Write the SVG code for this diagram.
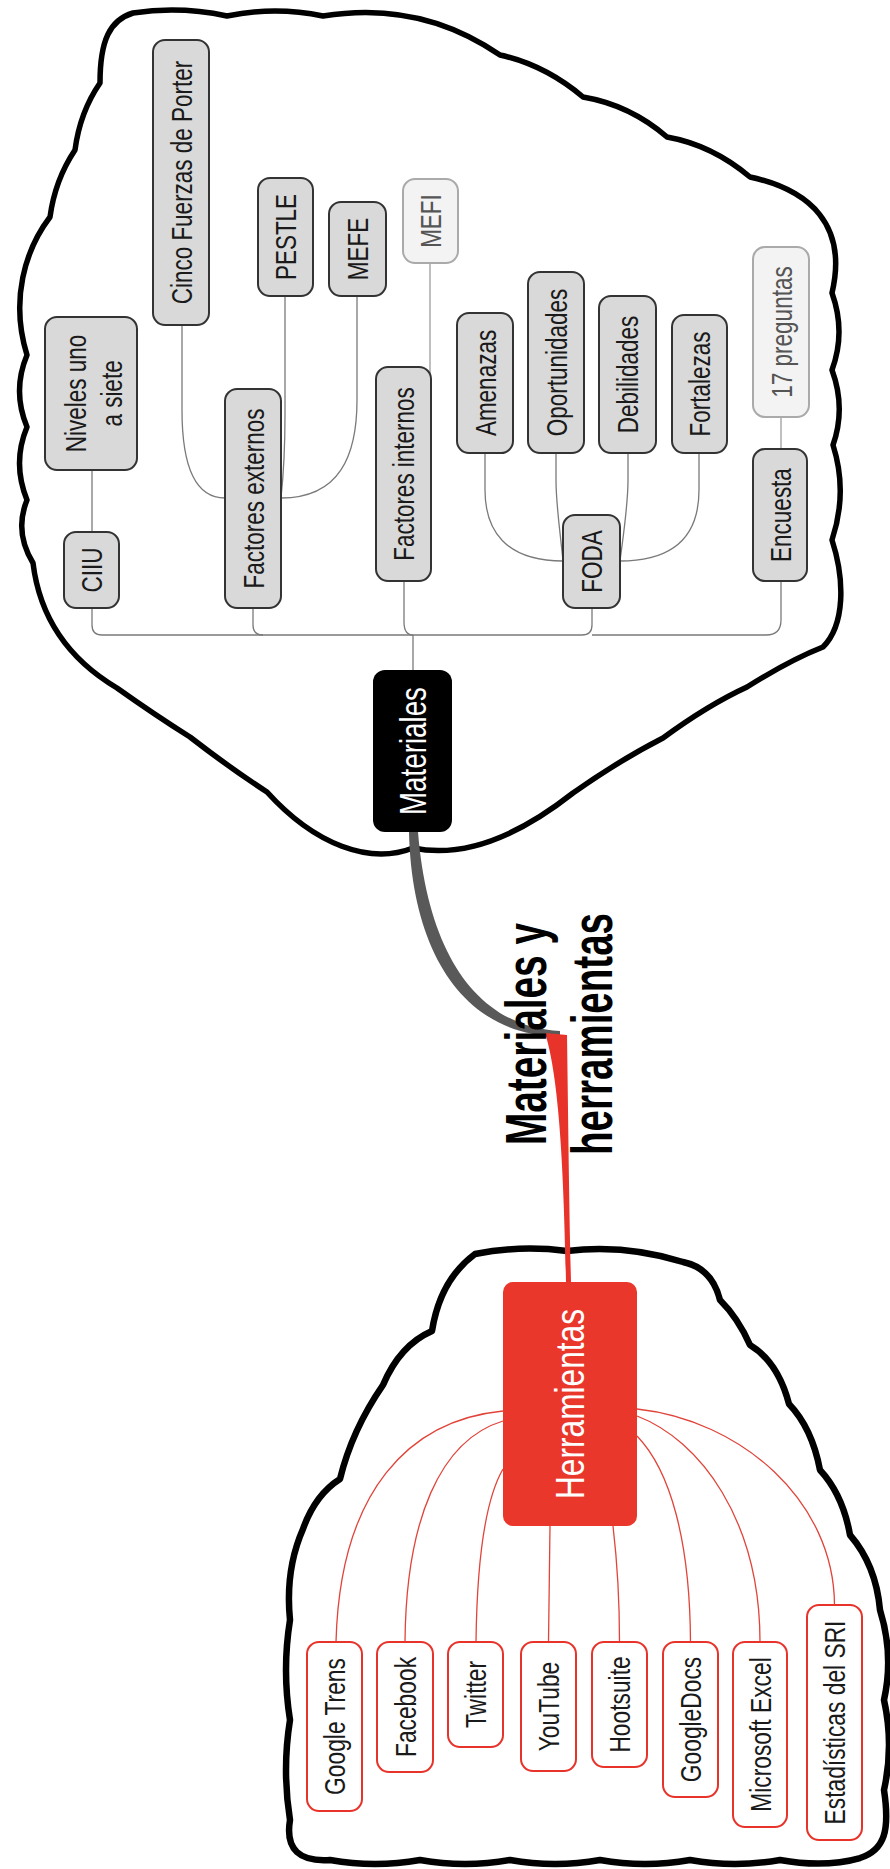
<svg xmlns="http://www.w3.org/2000/svg" width="890" height="1869" viewBox="0 0 890 1869">
<style>
.cloud{fill:#fff;stroke:#000;stroke-width:5.5;stroke-linejoin:round}
.cloud2{fill:#fff;stroke:#000;stroke-width:6.5;stroke-linejoin:round}
.g{fill:#d9d9d9;stroke:#333;stroke-width:2}
.l{fill:#f3f3f3;stroke:#aaa;stroke-width:2}
.t{fill:#fff;stroke:#e8332a;stroke-width:2}
.tx{font-family:"Liberation Sans",Arial,sans-serif;font-size:30px;fill:#1a1a1a;text-anchor:middle}
.lt{fill:#555}
.wh{fill:#fff}
.c{fill:none;stroke:#7a7a7a;stroke-width:1.3}
.cl{fill:none;stroke:#aaa;stroke-width:1.5}
.cr{fill:none;stroke:#e0443a;stroke-width:1.3}
</style>
<rect width="890" height="1869" fill="#fff"/>
<g id="cloud-materiales">
<path class="cloud" d="M133,13 Q180,6 227,16 Q275,6 323,16 Q420,0 500,55 Q545,65 583,97 Q630,105 667,137 Q712,145 750,177 C810,190 848,225 832,293 Q846,332 832,370 Q846,408 833,445 Q848,492 832,540 C845,580 845,625 823,647 Q790,660 747,687 Q708,705 663,738 Q620,760 573,793 C545,815 480,862 413,848 C370,865 315,845 267,792 Q230,768 190,737 Q155,715 117,688 C70,660 40,620 33,563 Q14,532 27,500 Q12,463 27,427 Q12,391 27,355 C10,300 25,250 50,217 Q55,180 75,150 Q80,112 100,83 C100,40 110,20 133,13 Z"/>
</g>
<g id="cloud-herramientas">
<path class="cloud2" d="M567,1251 Q625,1244 683,1262 Q712,1268 720,1300 Q738,1318 750,1345 Q778,1362 789,1404 Q812,1428 820,1470 Q843,1495 850,1535 Q876,1565 880,1610 Q894,1655 884,1700 Q894,1745 884,1790 C890,1830 885,1850 860,1858 Q825,1868 780,1860 Q735,1868 690,1860 Q645,1868 600,1860 Q555,1868 510,1860 Q465,1868 420,1860 Q375,1868 330,1860 C300,1862 285,1850 290,1820 Q282,1770 290,1720 Q282,1670 290,1620 Q285,1570 303,1529 Q315,1495 340,1479 Q352,1430 383,1385 Q400,1345 432,1331 Q440,1280 475,1254 Q520,1245 567,1251 Z"/>
</g>
<g id="connectors">
<path class="c" d="M413,670 L413,635"/>
<path class="c" d="M413,635 L102,635 Q92,635 92,625 L92,608"/>
<path class="c" d="M263,635 Q253,635 253,625 L253,608"/>
<path class="c" d="M413,635 Q404,635 404,622 L404,581"/>
<path class="c" d="M413,635 L582,635 Q592,635 592,625 L592,608"/>
<path class="c" d="M592,635 L766,635 Q781,635 781,620 L781,581"/>
<path class="c" d="M92,532 L92,470"/>
<path class="c" d="M225,498 C192,498 182,460 182,410 L182,325"/>
<path class="c" d="M281,498 C284,470 285,445 285,415 L285,296"/>
<path class="c" d="M281,498 C340,498 357,455 357,400 L357,296"/>
<path class="cl" d="M430,474 L430,263"/>
<path class="c" d="M563,561 C505,561 485,530 485,490 L485,453"/>
<path class="c" d="M563,561 C560,530 556,505 556,480 L556,453"/>
<path class="c" d="M620,561 C624,530 628,505 628,480 L628,453"/>
<path class="c" d="M620,561 C680,561 699,530 699,490 L699,453"/>
<path class="cl" d="M781,449 L781,417"/>
<path fill="#595959" d="M409,832 C412,960 470,1037 560,1036 L560,1031 C478,1027 428,955 418,832 Z"/>
<path fill="#e8332a" d="M545,1033 L567,1035 C568,1100 569,1200 571,1282 L566,1282 C564,1180 560,1080 545,1033 Z"/>
<path class="cr" d="M503,1411 C410,1420 340,1490 336,1642"/>
<path class="cr" d="M503,1421 C440,1440 406,1520 405,1642"/>
<path class="cr" d="M503,1469 C485,1500 477,1560 476,1642"/>
<path class="cr" d="M550,1526 L548.5,1642"/>
<path class="cr" d="M613,1526 C617,1560 619.5,1600 619.5,1642"/>
<path class="cr" d="M637,1436 C670,1470 690,1540 690.5,1642"/>
<path class="cr" d="M637,1416 C700,1440 760,1520 760,1642"/>
<path class="cr" d="M637,1409 C740,1420 834,1500 834.5,1605"/>
</g>
<g id="n-niveles"><rect class="g" x="45" y="317" width="92" height="153" rx="12"/>
<text class="tx" transform="translate(86,393.5) rotate(-90) scale(0.75,1)">Niveles uno</text>
<text class="tx" transform="translate(122,393.5) rotate(-90) scale(0.75,1)">a siete</text></g>
<g id="n-ciiu"><rect class="g" x="64" y="532" width="55" height="76" rx="12"/>
<text class="tx" transform="translate(102.2,570) rotate(-90) scale(0.75,1)">CIIU</text></g>
<g id="n-cinco"><rect class="g" x="153" y="40" width="56" height="285" rx="12"/>
<text class="tx" transform="translate(191.7,182.5) rotate(-90) scale(0.75,1)">Cinco Fuerzas de Porter</text></g>
<g id="n-fext"><rect class="g" x="225" y="389" width="56" height="219" rx="12"/>
<text class="tx" transform="translate(263.7,498.5) rotate(-90) scale(0.75,1)">Factores externos</text></g>
<g id="n-pestle"><rect class="g" x="258" y="178" width="55" height="118" rx="12"/>
<text class="tx" transform="translate(296.2,237) rotate(-90) scale(0.75,1)">PESTLE</text></g>
<g id="n-mefe"><rect class="g" x="329" y="202" width="57" height="94" rx="12"/>
<text class="tx" transform="translate(368.2,249) rotate(-90) scale(0.75,1)">MEFE</text></g>
<g id="n-mefi"><rect class="l" x="403" y="179" width="55" height="84" rx="12"/>
<text class="tx lt" transform="translate(441.2,221) rotate(-90) scale(0.75,1)">MEFI</text></g>
<g id="n-fint"><rect class="g" x="376" y="367" width="55" height="214" rx="12"/>
<text class="tx" transform="translate(414.2,474) rotate(-90) scale(0.75,1)">Factores internos</text></g>
<g id="n-amenazas"><rect class="g" x="457" y="313" width="56" height="140" rx="12"/>
<text class="tx" transform="translate(495.7,383) rotate(-90) scale(0.75,1)">Amenazas</text></g>
<g id="n-oport"><rect class="g" x="528" y="272" width="56" height="181" rx="12"/>
<text class="tx" transform="translate(566.7,362.5) rotate(-90) scale(0.75,1)">Oportunidades</text></g>
<g id="n-debil"><rect class="g" x="599" y="296" width="57" height="157" rx="12"/>
<text class="tx" transform="translate(638.2,374.5) rotate(-90) scale(0.75,1)">Debilidades</text></g>
<g id="n-fort"><rect class="g" x="672" y="315" width="55" height="138" rx="12"/>
<text class="tx" transform="translate(710.2,384) rotate(-90) scale(0.75,1)">Fortalezas</text></g>
<g id="n-foda"><rect class="g" x="563" y="515" width="57" height="93" rx="12"/>
<text class="tx" transform="translate(602.2,561.5) rotate(-90) scale(0.75,1)">FODA</text></g>
<g id="n-17"><rect class="l" x="753" y="247" width="56" height="170" rx="12"/>
<text class="tx lt" transform="translate(791.7,332) rotate(-90) scale(0.75,1)">17 preguntas</text></g>
<g id="n-encuesta"><rect class="g" x="753" y="449" width="54" height="132" rx="12"/>
<text class="tx" transform="translate(790.7,515) rotate(-90) scale(0.75,1)">Encuesta</text></g>
<g id="n-materiales"><rect x="373" y="670" width="79" height="162" rx="12" fill="#000"/>
<text class="tx wh" textLength="128" lengthAdjust="spacingAndGlyphs" style="font-size:37px" transform="translate(426,751) rotate(-90)">Materiales</text></g>
<g id="n-herramientas"><rect x="503" y="1282" width="134" height="244" rx="10" fill="#ea372c"/>
<text class="tx wh" textLength="190" lengthAdjust="spacingAndGlyphs" style="font-size:40px" transform="translate(584,1404) rotate(-90)">Herramientas</text></g>
<g id="n-gtrens"><rect class="t" x="307" y="1642" width="55" height="169" rx="12"/>
<text class="tx" transform="translate(345.2,1726.5) rotate(-90) scale(0.76,1)">Google Trens</text></g>
<g id="n-facebook"><rect class="t" x="377" y="1642" width="56" height="130" rx="12"/>
<text class="tx" transform="translate(415.7,1707) rotate(-90) scale(0.76,1)">Facebook</text></g>
<g id="n-twitter"><rect class="t" x="448" y="1642" width="55" height="105" rx="12"/>
<text class="tx" transform="translate(486.2,1694.5) rotate(-90) scale(0.76,1)">Twitter</text></g>
<g id="n-youtube"><rect class="t" x="521" y="1642" width="55" height="129" rx="12"/>
<text class="tx" transform="translate(559.2,1706.5) rotate(-90) scale(0.76,1)">YouTube</text></g>
<g id="n-hootsuite"><rect class="t" x="592" y="1642" width="55" height="125" rx="12"/>
<text class="tx" transform="translate(630.2,1704.5) rotate(-90) scale(0.76,1)">Hootsuite</text></g>
<g id="n-gdocs"><rect class="t" x="663" y="1642" width="55" height="155" rx="12"/>
<text class="tx" transform="translate(701.2,1719.5) rotate(-90) scale(0.76,1)">GoogleDocs</text></g>
<g id="n-excel"><rect class="t" x="733" y="1642" width="54" height="185" rx="12"/>
<text class="tx" transform="translate(770.7,1734.5) rotate(-90) scale(0.76,1)">Microsoft Excel</text></g>
<g id="n-sri"><rect class="t" x="807" y="1605" width="55" height="235" rx="12"/>
<text class="tx" transform="translate(845.2,1722.5) rotate(-90) scale(0.76,1)">Estadísticas del SRI</text></g>
<g id="label">
<text class="tx" textLength="222" lengthAdjust="spacingAndGlyphs" style="font-size:57px;fill:#000;font-weight:bold" transform="translate(546,1034) rotate(-90)">Materiales y</text>
<text class="tx" textLength="242" lengthAdjust="spacingAndGlyphs" style="font-size:57px;fill:#000;font-weight:bold" transform="translate(612,1034) rotate(-90)">herramientas</text>
</g>
</svg>
